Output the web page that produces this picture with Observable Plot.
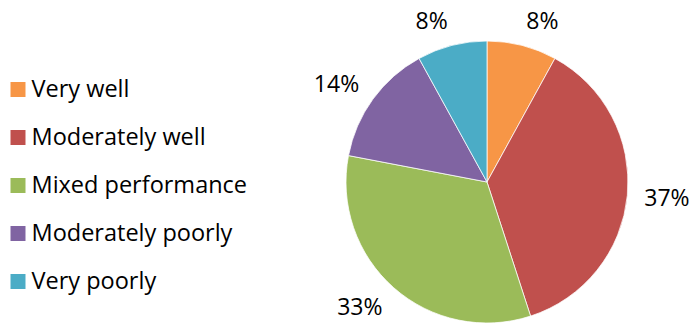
<!DOCTYPE html>
<html>
<head>
<meta charset="utf-8">
<script src="https://cdn.jsdelivr.net/npm/d3@7"></script>
<script src="https://cdn.jsdelivr.net/npm/@observablehq/plot@0.6"></script>
<style>
  html, body { margin: 0; padding: 0; background: #fff; }
  #chart svg { display: block; }
</style>
</head>
<body>
<div id="chart"></div>
<script>
const categories = ["Very well", "Moderately well", "Mixed performance", "Moderately poorly", "Very poorly"];
const shares = [8, 37, 33, 14, 8];
const colors = ["#F79646", "#C0504D", "#9BBB59", "#8064A2", "#4BACC6"];

const data = categories.map((category, i) => ({category, share: shares[i]}));

const W = 691, H = 326;
const cx = 487, cy = 182, R = 141, labelR = 158, labelH = 17;

function pieMark(index, scales) {
  const color = (scales && scales.color) ? scales.color : d3.scaleOrdinal(categories, colors);
  const g = d3.create("svg:g");
  const arcs = d3.pie().sort(null).value(d => d.share)(data);
  const arc = d3.arc().innerRadius(0).outerRadius(R);
  g.append("g")
    .attr("transform", `translate(${cx},${cy})`)
    .selectAll("path")
    .data(arcs)
    .join("path")
    .attr("d", arc)
    .attr("fill", d => color(d.data.category))
    .attr("stroke", "#fff")
    .attr("stroke-width", 0.75);
  g.append("g")
    .selectAll("text")
    .data(arcs)
    .join("text")
    .each(function(d) {
      const a = (d.startAngle + d.endAngle) / 2;
      const s = Math.sin(a), c = Math.cos(a);
      d3.select(this)
        .attr("x", cx + labelR * s)
        .attr("y", cy - labelR * c - c * labelH / 2)
        .attr("dy", "0.35em")
        .attr("text-anchor", s >= 0 ? "start" : "end");
    })
    .attr("font-size", 23)
    .attr("fill", "#000")
    .text(d => d.data.share + "%");
  return g.node();
}

const chart = Plot.plot({
  width: W,
  height: H,
  margin: 0,
  style: {fontFamily: "'Open Sans', sans-serif", background: "#fff", overflow: "visible"},
  x: {axis: null},
  y: {type: "point", domain: categories, range: [88.4, 280.8], padding: 0, axis: null},
  color: {domain: categories, range: colors},
  marks: [
    pieMark,
    Plot.dot(categories, {y: d => d, fill: d => d, symbol: "square", r: 15 / Math.sqrt(Math.PI), frameAnchor: "left", dx: 17.5}),
    Plot.text(categories, {y: d => d, text: d => d, frameAnchor: "left", dx: 31, textAnchor: "start", fontSize: 23.5, fill: "#000"})
  ]
});
document.getElementById("chart").appendChild(chart);
</script>
</body>
</html>
